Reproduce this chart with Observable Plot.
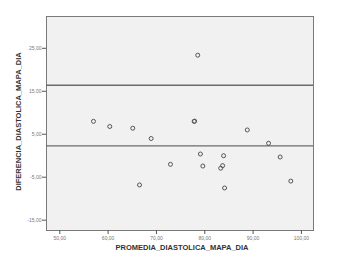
<!DOCTYPE html>
<html>
<head>
<meta charset="utf-8">
<script src="https://cdn.jsdelivr.net/npm/d3@7"></script>
<script src="https://cdn.jsdelivr.net/npm/@observablehq/plot@0.6"></script>
<style>
  html, body { margin: 0; padding: 0; background: #fff; }
  #chart { width: 351px; height: 263px; }
</style>
</head>
<body>
<div id="chart"></div>
<script>
const promedio = [56.97, 60.34, 65.1, 68.9, 66.5, 72.9, 77.8, 77.9, 78.55, 79.1, 79.6, 83.9, 83.7, 83.3, 84.1, 88.8, 93.2, 95.6, 97.8];
const diferencia = [8.0, 6.8, 6.4, 4.0, -6.8, -2.0, 8.0, 8.05, 23.4, 0.4, -2.4, 0.0, -2.3, -2.9, -7.5, 6.0, 2.9, -0.3, -5.9];
const refLines = [16.4, 2.3];
const xTicks = [50, 60, 70, 80, 90, 100];
const yTicks = [25, 15, 5, -5, -15];
const xTitle = "PROMEDIA_DIASTOLICA_MAPA_DIA";
const yTitle = "DIFERENCIA_DIASTOLICA_MAPA_DIA";

const data = promedio.map((x, i) => ({x, y: diferencia[i]}));
const fmt = d => d.toFixed(2).replace(".", ",");

const chart = Plot.plot({
  width: 351,
  height: 263,
  marginLeft: 46,
  marginRight: 38,
  marginTop: 16,
  marginBottom: 33,
  style: {fontFamily: "Liberation Sans, Arial, sans-serif", background: "#fff"},
  x: {domain: [47.25, 102.5]},
  y: {domain: [-17.4, 32.4]},
  marks: [
    Plot.frame({fill: "#f1f1f1", stroke: "#7a7a7a", strokeWidth: 1}),
    Plot.axisX({ticks: xTicks, tickFormat: fmt, fontSize: 5, tickSize: 4, tickPadding: 2, stroke: "#555", color: "#777", label: null}),
    Plot.axisY({ticks: yTicks, tickFormat: fmt, fontSize: 5, tickSize: 4, tickPadding: 1, stroke: "#555", color: "#777", label: null}),
    Plot.ruleY(refLines, {stroke: "#6a6a6a", strokeWidth: 1.3}),
    Plot.dot(data, {x: "x", y: "y", r: 2, stroke: "#555", strokeWidth: 1, fill: "none"}),
    Plot.text([xTitle], {text: d => d, frameAnchor: "bottom", textAnchor: "middle", dx: 2, dy: 19, fontSize: 7.5, fontWeight: "bold", fill: "#333"}),
    Plot.text([yTitle], {text: d => d, frameAnchor: "left", textAnchor: "middle", dx: -28, dy: -2, rotate: -90, fontSize: 7.5, fontWeight: "bold", fill: "#333"})
  ]
});
document.getElementById("chart").appendChild(chart);
</script>
</body>
</html>
